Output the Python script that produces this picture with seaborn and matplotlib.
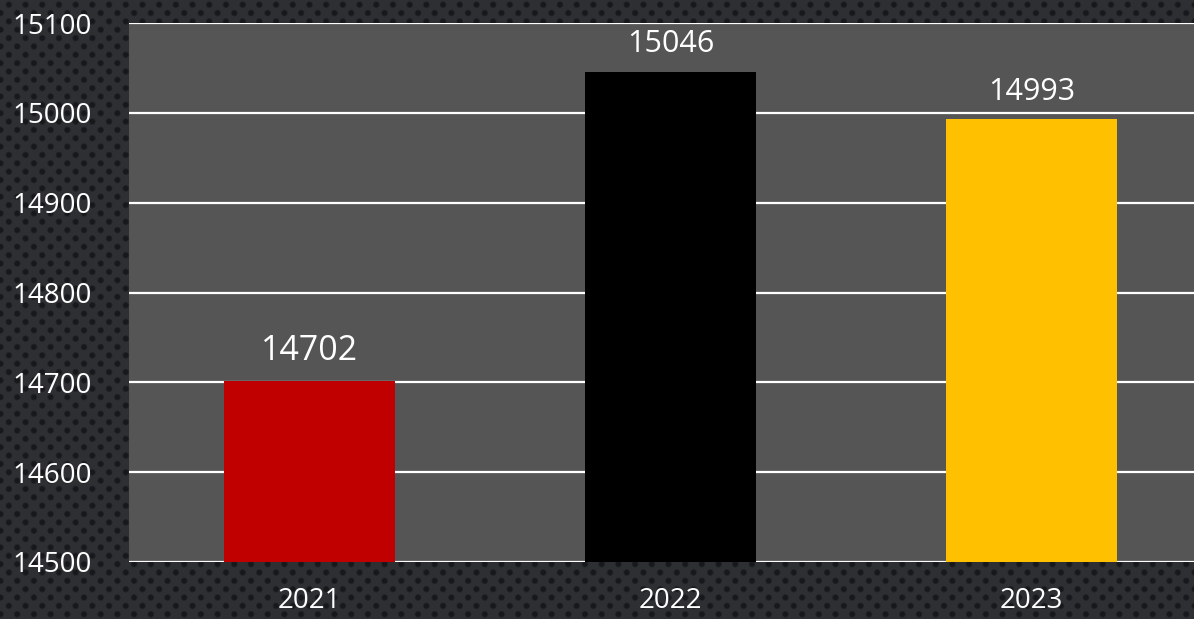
import numpy as np
import pandas as pd
import matplotlib
matplotlib.use("Agg")
import matplotlib.pyplot as plt
import seaborn as sns

years = ["2021", "2022", "2023"]
values = [14702, 15046, 14993]
colors = ["#C00000", "#000000", "#FFC000"]
yticks = [14500, 14600, 14700, 14800, 14900, 15000, 15100]

sns.set_style("white")
plt.rcParams["font.family"] = ["Open Sans", "DejaVu Sans"]

fig = plt.figure(figsize=(11.94, 6.19), dpi=100)

# textured dark background
bg = fig.add_axes([0, 0, 1, 1], zorder=-10)
H, W = 619, 1194
yy, xx = np.mgrid[0:H, 0:W].astype(float)
px = 16.7
py = px / 2
row = np.floor(yy / py)
xs = xx + (row % 2) * (px / 2)
dx = (xs % px) - px / 2
dy = (yy % py) - py / 2
r = np.sqrt(dx**2 + dy**2)
base = np.array([0x2d, 0x2f, 0x33]) / 255
dark = np.array([0x16, 0x18, 0x1c]) / 255
t = np.clip((r - 2.0) / 1.8, 0, 1)[..., None]
img = dark * (1 - t) + base * t
bg.imshow(img, aspect="auto", interpolation="bilinear")
bg.axis("off")

ax = fig.add_axes([129 / 1194, 1 - 562 / 619, 1083 / 1194, (562 - 23) / 619])
ax.set_facecolor("#555555")

df = pd.DataFrame({"year": years, "value": values})
sns.barplot(data=df, x="year", y="value", hue="year", palette=colors,
            legend=False, width=0.474, ax=ax, saturation=1, zorder=3,
            linewidth=0, edgecolor="none")

ax.set_ylim(14500, 15100)
ax.set_yticks(yticks)
ax.set_yticklabels([str(v) for v in yticks])
ax.grid(axis="y", color="white", linewidth=1.6, zorder=0)
ax.set_axisbelow(True)
for s in ax.spines.values():
    s.set_visible(False)
ax.tick_params(axis="y", length=0, pad=27, labelsize=20, labelcolor="white")
ax.tick_params(axis="x", length=0, pad=18, labelsize=20, labelcolor="white")
ax.set_xlabel("")
ax.set_ylabel("")

sizes = [24.5, 22, 22]
for i, (v, fs) in enumerate(zip(values, sizes)):
    ax.annotate(str(v), (i, v), xytext=(0, 9), textcoords="offset points",
                ha="center", va="bottom", color="white", fontsize=fs)

fig.savefig("out.png", dpi=100)
